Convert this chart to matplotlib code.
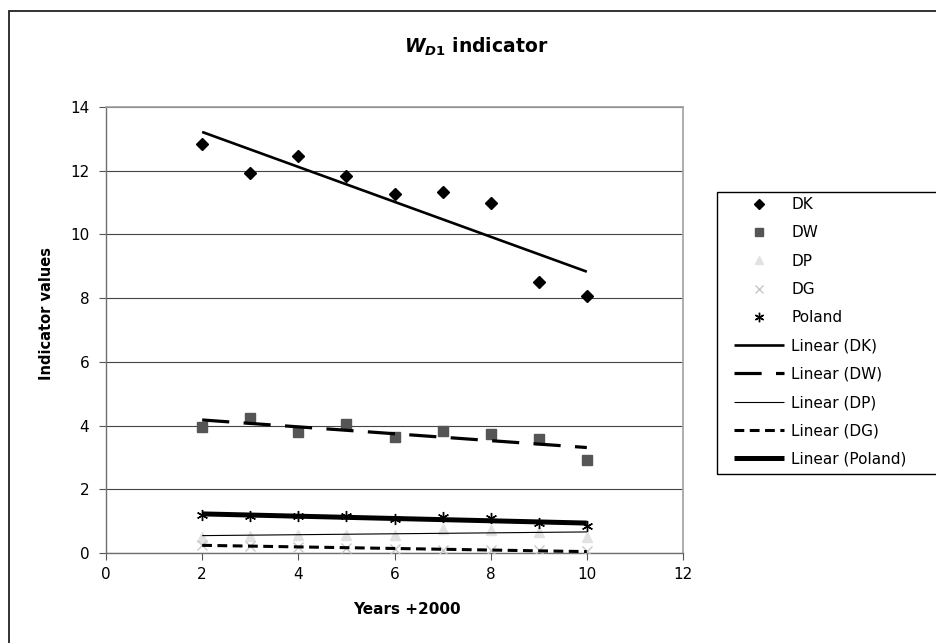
"""
W_D1 indicator: values per region 2002-2010 with linear trend lines.
"""

import matplotlib
matplotlib.use('Agg')
import matplotlib.pyplot as plt
import matplotlib.patches as patches
import numpy as np

plt.rcParams['font.family'] = ['DejaVu Sans']
plt.rcParams['mathtext.fontset'] = 'custom'
plt.rcParams['mathtext.it'] = 'DejaVu Sans:italic:bold'
plt.rcParams['mathtext.rm'] = 'DejaVu Sans:bold'

# ----- data (years +2000) -----
years = [2, 3, 4, 5, 6, 7, 8, 9, 10]
dk = [12.84, 11.93, 12.47, 11.83, 11.27, 11.33, 10.98, 8.50, 8.06]
dw = [3.96, 4.23, 3.79, 4.04, 3.63, 3.83, 3.72, 3.57, 2.92]
dp = [0.51, 0.53, 0.58, 0.58, 0.58, 0.75, 0.72, 0.67, 0.51]
dg = [0.25, 0.22, 0.20, 0.16, 0.12, 0.10, 0.10, 0.08, 0.05]
poland = [1.20, 1.15, 1.15, 1.16, 1.07, 1.13, 1.10, 0.94, 0.85]

series_names = ['DK', 'DW', 'DP', 'DG', 'Poland']
x_ticks = [0, 2, 4, 6, 8, 10, 12]
y_ticks = [0, 2, 4, 6, 8, 10, 12, 14]

W, H = 936, 643
fig = plt.figure(figsize=(W / 100, H / 100), dpi=100)
fig.patch.set_facecolor('white')

# plot area in pixel coordinates of the original chart
left, right, top, bottom = 106, 683, 107, 553
ax = fig.add_axes([left / W, 1 - bottom / H, (right - left) / W, (bottom - top) / H])

# marker styles per series
marker_style = {
    'DK': dict(marker='D', ms=6.5, color='black', mec='black'),
    'DW': dict(marker='s', ms=7.5, color='#555555', mec='#555555'),
    'DP': dict(marker='^', ms=7.5, color='#e2e2e2', mec='#e2e2e2'),
    'DG': dict(marker='x', ms=7, color='#c8c8c8', mec='#c8c8c8', mew=1.0),
    'Poland': dict(marker=(6, 2, 0), ms=8, color='black', mec='black', mew=1.0),
}
# trend line styles per series
trend_style = {
    'DK': dict(color='black', lw=1.9, ls='-'),
    'DW': dict(color='black', lw=2.3, ls=(0, (8.5, 4.5))),
    'DP': dict(color='black', lw=0.8, ls='-'),
    'DG': dict(color='black', lw=2.2, ls=(0, (3.2, 1.8))),
    'Poland': dict(color='black', lw=3.6, ls='-'),
}

values = [dk, dw, dp, dg, poland]
x = np.array(years, dtype=float)

marker_handles = []
trend_handles = []
for name, vals in zip(series_names, values):
    h, = ax.plot(x, vals, ls='none', label=name, zorder=3, **marker_style[name])
    marker_handles.append(h)

for name, vals in zip(series_names, values):
    slope, icpt = np.polyfit(x, vals, 1)
    xs = np.array([x.min(), x.max()])
    t, = ax.plot(xs, slope * xs + icpt, label=f'Linear ({name})', zorder=4,
                 solid_capstyle='butt', dash_capstyle='butt', **trend_style[name])
    trend_handles.append(t)

# axes look (Excel-like)
ax.set_xlim(0, 12)
ax.set_ylim(0, 14)
ax.set_xticks(x_ticks)
ax.set_yticks(y_ticks)
ax.yaxis.grid(True, color='#444444', lw=0.8)
ax.set_axisbelow(True)
for side in ['left', 'bottom']:
    ax.spines[side].set_color('#707070')
    ax.spines[side].set_linewidth(1.0)
for side in ['top', 'right']:
    ax.spines[side].set_color('#a0a0a0')
    ax.spines[side].set_linewidth(1.2)
ax.tick_params(axis='both', direction='out', length=5, width=0.8, color='#555555',
               labelsize=11)
ax.tick_params(axis='y', pad=7)
ax.tick_params(axis='x', pad=5)

# labels and title placed in figure coordinates
fig.text(47 / W, 1 - 313 / H, 'Indicator values', rotation=90, ha='center', va='center',
         fontsize=10.5, fontweight='bold')
fig.text(407 / W, 1 - 610 / H, 'Years +2000', ha='center', va='center',
         fontsize=11, fontweight='bold')
fig.text(476 / W, 1 - 47 / H, r'$\mathit{W_{D1}}$ indicator', ha='center', va='center',
         fontsize=13.5, fontweight='bold')

# legend frame drawn separately (it runs off the right edge)
fig.patches.append(patches.Rectangle((717 / W, 1 - 474 / H), (W + 10 - 717) / W,
                                     (474 - 192) / H, transform=fig.transFigure,
                                     fill=False, edgecolor='black', lw=1.0))
fig.legend(handles=marker_handles + trend_handles, loc='upper left',
           bbox_to_anchor=(734 / W, 1 - 197 / H), frameon=False, fontsize=11,
           numpoints=1, handlelength=3.3, handletextpad=0.45, labelspacing=0.87,
           borderpad=0, borderaxespad=0, markerscale=0.85)

# outer chart border (runs off right and bottom edge)
fig.patches.append(patches.Rectangle((9 / W, -0.02), 1.05, 1.02 - 11 / H,
                                     transform=fig.transFigure, fill=False,
                                     edgecolor='#222222', lw=1.3))

plt.savefig('out.png', dpi=100, facecolor='white')
